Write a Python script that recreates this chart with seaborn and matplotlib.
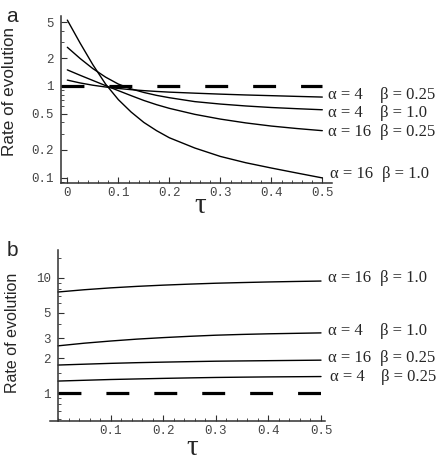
import numpy as np
import pandas as pd
import matplotlib
matplotlib.use("Agg")
import matplotlib.pyplot as plt
import seaborn as sns
from matplotlib.ticker import FixedLocator, FixedFormatter, LogLocator, NullFormatter, MultipleLocator

# ---------------- data ----------------
# panel a
tau_a = [0, 0.025, 0.05, 0.075, 0.1, 0.125, 0.15, 0.175, 0.2, 0.25, 0.3, 0.35, 0.4, 0.45, 0.5]
a_a4_b025 = [1.16, 1.08, 1.02, 0.975, 0.94, 0.912, 0.89, 0.872, 0.857, 0.835, 0.815, 0.798, 0.784, 0.77, 0.757]
a_a4_b1 = [2.65, 2.0, 1.55, 1.25, 1.05, 0.93, 0.85, 0.79, 0.745, 0.675, 0.635, 0.605, 0.582, 0.565, 0.55]
a_a16_b025 = [1.5, 1.31, 1.15, 1.01, 0.89, 0.785, 0.695, 0.625, 0.57, 0.49, 0.435, 0.395, 0.365, 0.343, 0.325]
a_a16_b1 = [5.25, 2.95, 1.71, 1.05, 0.71, 0.52, 0.40, 0.325, 0.272, 0.21, 0.17, 0.145, 0.127, 0.112, 0.099]

# panel b
tau_b = [0, 0.05, 0.1, 0.15, 0.2, 0.25, 0.3, 0.35, 0.4, 0.45, 0.5]
b_a16_b1 = [7.55, 7.9, 8.2, 8.45, 8.66, 8.84, 9.0, 9.12, 9.23, 9.32, 9.4]
b_a4_b1 = [2.57, 2.71, 2.83, 2.94, 3.03, 3.11, 3.18, 3.23, 3.27, 3.30, 3.33]
b_a16_b025 = [1.75, 1.78, 1.81, 1.835, 1.855, 1.873, 1.89, 1.90, 1.91, 1.92, 1.93]
b_a4_b025 = [1.27, 1.29, 1.31, 1.325, 1.34, 1.353, 1.365, 1.373, 1.38, 1.385, 1.39]

neutral_rate = 1.0

series_keys = ["a4_b025", "a4_b1", "a16_b025", "a16_b1"]
alpha_text = {"a4_b025": "α = 4", "a4_b1": "α = 4", "a16_b025": "α = 16", "a16_b1": "α = 16"}
beta_text = {"a4_b025": "β = 0.25", "a4_b1": "β = 1.0", "a16_b025": "β = 0.25", "a16_b1": "β = 1.0"}

xticks_a = [0, 0.1, 0.2, 0.3, 0.4, 0.5]
xticklabels_a = ["0", "0.1", "0.2", "0.3", "0.4", "0.5"]
xticks_b = [0.1, 0.2, 0.3, 0.4, 0.5]
xticklabels_b = ["0.1", "0.2", "0.3", "0.4", "0.5"]
yticks_a = [0.1, 0.2, 0.5, 1, 2, 5]
yticklabels_a = ["0.1", "0.2", "0.5", "1", "2", "5"]
yticks_b = [1, 2, 3, 5, 10]
yticklabels_b = ["1", "2", "3", "5", "10"]

df_a = pd.concat([
    pd.DataFrame({"tau": tau_a, "rate": v, "series": k})
    for k, v in zip(series_keys, [a_a4_b025, a_a4_b1, a_a16_b025, a_a16_b1])
])
df_b = pd.concat([
    pd.DataFrame({"tau": tau_b, "rate": v, "series": k})
    for k, v in zip(series_keys, [b_a4_b025, b_a4_b1, b_a16_b025, b_a16_b1])
])

# ---------------- style ----------------
sns.set_style("ticks")
plt.rcParams["font.family"] = ["Liberation Mono", "DejaVu Sans"]
plt.rcParams["lines.scale_dashes"] = False

W, H = 436, 470
fig = plt.figure(figsize=(W / 100, H / 100), dpi=100)


def axes_px(l, t, r, b):
    return fig.add_axes([l / W, 1 - b / H, (r - l) / W, (b - t) / H])


def ftext(x, y, s, **kw):
    fig.text(x / W, 1 - y / H, s, **kw)


ax_a = axes_px(61, 16, 332, 183)
ax_b = axes_px(50, 250, 325, 421)

SPINE = "#303030"
DASH = (0, (16.5, 18.0))

for ax, df in [(ax_a, df_a), (ax_b, df_b)]:
    sns.lineplot(data=df, x="tau", y="rate", hue="series", palette=["black"] * 4,
                 estimator=None, sort=True, legend=False, linewidth=1.0, ax=ax)
    ax.set_yscale("log")
    ax.set_xlabel("")
    ax.set_ylabel("")
    for s in ["top", "right"]:
        ax.spines[s].set_visible(False)
    for s in ["left", "bottom"]:
        ax.spines[s].set_color(SPINE)
        ax.spines[s].set_linewidth(1.1)
    ax.tick_params(which="major", direction="in", length=4, width=0.8, color=SPINE,
                   labelsize=9, labelcolor="#444444")
    ax.tick_params(which="minor", direction="in", length=2, width=0.6, color=SPINE)
    ax.tick_params(axis="y", which="major", pad=5)
    ax.tick_params(axis="x", which="major", pad=3)
    ax.patch.set_alpha(0)

# panel a axes
ax_a.set_xlim(-0.0124, 0.519)
ax_a.set_ylim(0.0871, 5.82)
ax_a.xaxis.set_major_locator(FixedLocator(xticks_a))
ax_a.xaxis.set_major_formatter(FixedFormatter(xticklabels_a))
ax_a.xaxis.set_minor_locator(MultipleLocator(0.02))
ax_a.yaxis.set_major_locator(FixedLocator(yticks_a))
ax_a.yaxis.set_major_formatter(FixedFormatter(yticklabels_a))
ax_a.yaxis.set_minor_locator(LogLocator(base=10, subs=[3, 4, 6, 7, 8, 9]))
ax_a.yaxis.set_minor_formatter(NullFormatter())
ax_a.plot([ax_a.get_xlim()[0], tau_a[-1]], [neutral_rate, neutral_rate],
          color="black", linewidth=2.3, linestyle=DASH, dash_capstyle="butt")

# panel b axes
ax_b.set_xlim(-0.0152, 0.5076)
ax_b.set_ylim(0.571, 17.5)
ax_b.spines["left"].set_position(("data", 0))
ax_b.xaxis.set_major_locator(FixedLocator(xticks_b))
ax_b.xaxis.set_major_formatter(FixedFormatter(xticklabels_b))
ax_b.xaxis.set_minor_locator(MultipleLocator(0.02))
ax_b.yaxis.set_major_locator(FixedLocator(yticks_b))
ax_b.yaxis.set_major_formatter(FixedFormatter(yticklabels_b))
ax_b.yaxis.set_minor_locator(LogLocator(base=10, subs=[1.5, 4, 6, 7, 8, 9]))
ax_b.yaxis.set_minor_formatter(NullFormatter())
ax_b.plot([tau_b[0], tau_b[-1]], [neutral_rate, neutral_rate],
          color="black", linewidth=2.3, linestyle=DASH, dash_capstyle="butt")

# ---------------- texts ----------------
SERIF = ["Liberation Serif", "DejaVu Serif"]
SANS = ["Liberation Sans", "DejaVu Sans"]

ftext(12, 17, "a", family=SANS, fontsize=15, ha="center", va="center")
ftext(12, 250, "b", family=SANS, fontsize=15, ha="center", va="center")
ftext(9.2, 91, "Rate of evolution", family=SANS, fontsize=12.3, rotation=90,
      ha="center", va="center")
ftext(12.5, 333, "Rate of evolution", family=SANS, fontsize=11.5, rotation=90,
      ha="center", va="center")
ftext(200, 206, "τ", family=SERIF, fontsize=21, ha="center", va="center")
ftext(192, 448, "τ", family=SERIF, fontsize=21, ha="center", va="center")

# series labels (pixel positions: alpha x, beta x, y)
label_pos_a = {"a4_b025": (328, 380, 95), "a4_b1": (328, 380, 113),
               "a16_b025": (328, 380, 132), "a16_b1": (330, 382, 174)}
label_pos_b = {"a16_b1": (328, 380, 278), "a4_b1": (328, 380, 331),
               "a16_b025": (328, 380, 358), "a4_b025": (330, 381, 377)}
for pos in (label_pos_a, label_pos_b):
    for k, (xa, xb, y) in pos.items():
        ftext(xa, y, alpha_text[k], family=SERIF, fontsize=12, ha="left", va="center")
        ftext(xb, y, beta_text[k], family=SERIF, fontsize=12, ha="left", va="center")

fig.savefig("out.png", dpi=100)
